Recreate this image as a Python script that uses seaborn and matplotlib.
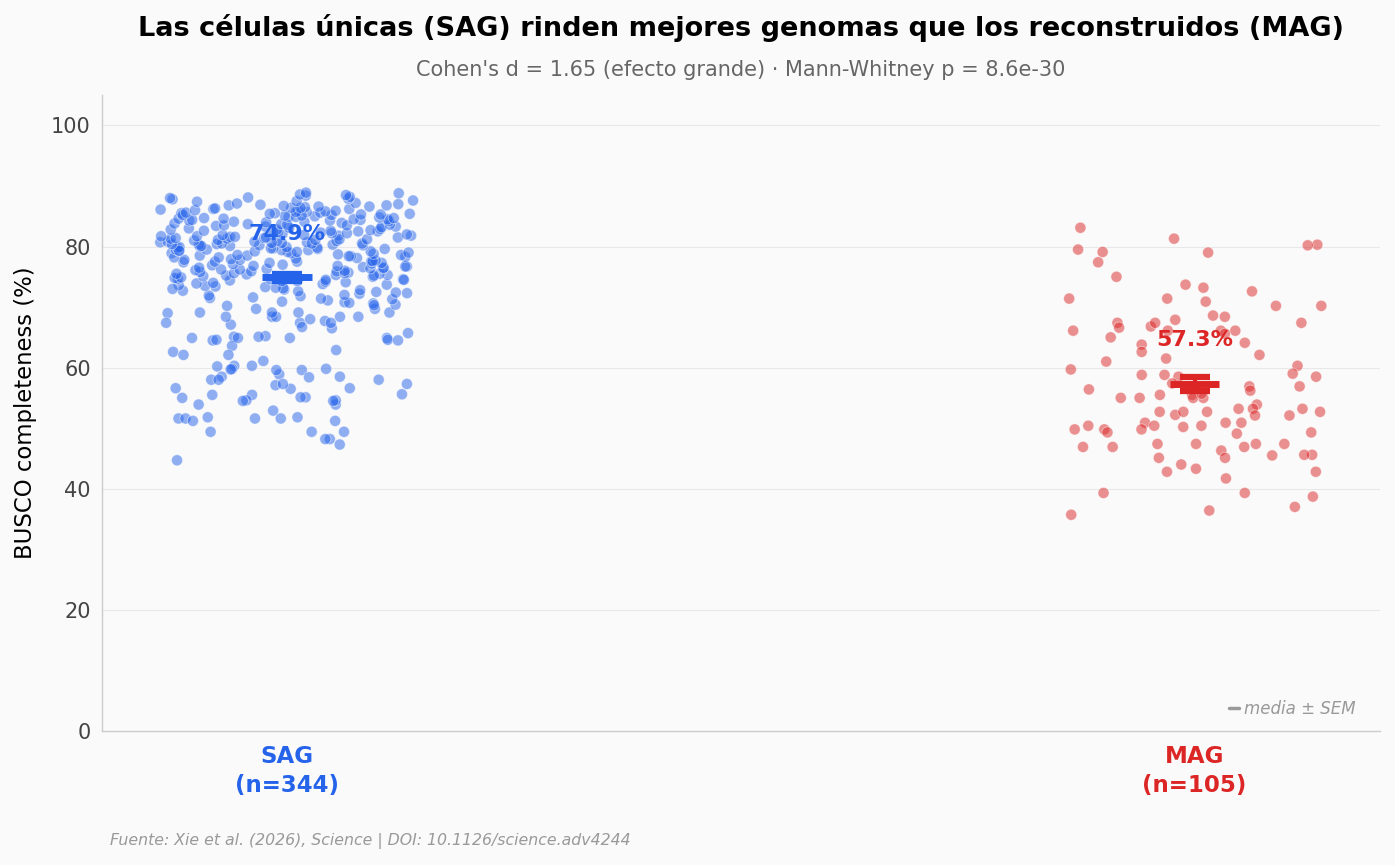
import numpy as np
import pandas as pd
import matplotlib
matplotlib.use('Agg')
import matplotlib.pyplot as plt
import seaborn as sns
from matplotlib.lines import Line2D

# ---- DATOS ----
grupos = ['SAG', 'MAG']
colores = {'SAG': '#2563eb', 'MAG': '#dc2626'}

sag_bajos = [
    67.4, 68.4, 65.1, 64.9, 64.9, 64.6, 64.9, 64.5, 62.6, 68.4, 69.0, 68.4, 67.7,
    67.1, 66.5, 68.0, 67.4, 66.7, 68.4, 65.2, 63.6, 62.9, 69.1, 69.1, 69.1, 68.4,
    64.9, 64.6, 65.1, 64.5, 65.7, 67.4, 69.1, 69.7, 69.7,
    62.1, 59.8, 59.6, 60.3, 60.2, 61.1, 58.9, 62.1, 60.3, 59.6, 58.0, 58.4, 59.8,
    59.7, 57.1, 55.5,
    58.0, 56.5, 55.0, 57.3, 55.5, 58.5, 56.6, 53.9, 51.2, 51.6, 48.2,
    54.6, 55.1, 54.5, 52.9, 56.6, 58.5, 57.3, 58.0,
    54.6, 48.2, 49.4, 51.6, 49.4, 44.7,
    51.6, 49.4, 53.9, 51.6, 51.2, 55.1, 51.8,
    55.6, 54.5, 51.8, 47.3,
]
sag_altos = [
    70.2, 70.4, 70.6, 70.8, 70.9, 70.3, 70.7,
    71.1, 71.3, 71.4, 71.6, 71.8, 71.5, 71.9,
    72.0, 72.2, 72.3, 72.5, 72.6, 72.7, 72.9, 72.4, 72.8,
    73.1, 73.2, 73.4, 73.5, 73.6, 73.7, 73.8, 73.9, 73.3, 73.0,
    74.0, 74.1, 74.2, 74.3, 74.4, 74.5, 74.6, 74.6, 74.7, 74.8, 74.9, 74.5, 74.3,
    75.0, 75.1, 75.2, 75.3, 75.3, 75.4, 75.5, 75.5, 75.6, 75.7, 75.8, 75.9, 75.2, 75.6, 75.9,
    76.0, 76.1, 76.2, 76.3, 76.4, 76.5, 76.5, 76.6, 76.7, 76.8, 76.9, 76.2, 76.4, 76.7, 76.8,
    77.0, 77.1, 77.2, 77.3, 77.4, 77.5, 77.6, 77.7, 77.8, 77.9, 77.3, 77.5, 77.8, 77.6,
    78.0, 78.1, 78.2, 78.3, 78.4, 78.5, 78.6, 78.7, 78.8, 78.9, 78.2, 78.4, 78.6, 78.9, 78.5,
    79.0, 79.1, 79.2, 79.3, 79.4, 79.5, 79.6, 79.7, 79.8, 79.9, 79.1, 79.3, 79.5, 79.7, 79.9,
    79.4, 79.6, 79.2, 79.8,
    80.0, 80.1, 80.2, 80.3, 80.4, 80.5, 80.6, 80.7, 80.8, 80.9, 80.1, 80.3, 80.5, 80.7, 80.9,
    80.2, 80.4, 80.6, 80.8, 80.5,
    81.0, 81.1, 81.2, 81.3, 81.4, 81.5, 81.6, 81.7, 81.8, 81.9, 81.1, 81.3, 81.5, 81.7, 81.9,
    81.2, 81.4, 81.6, 81.8,
    82.0, 82.1, 82.2, 82.3, 82.4, 82.5, 82.6, 82.7, 82.8, 82.9, 82.2, 82.4, 82.6, 82.8, 82.5,
    83.0, 83.1, 83.2, 83.3, 83.4, 83.5, 83.6, 83.7, 83.8, 83.9, 83.3, 83.5, 83.7, 83.6,
    84.0, 84.1, 84.2, 84.3, 84.4, 84.5, 84.6, 84.7, 84.8, 84.9, 84.1, 84.3, 84.5, 84.7, 84.9,
    84.4, 84.6,
    85.0, 85.1, 85.2, 85.3, 85.4, 85.5, 85.6, 85.7, 85.8, 85.9, 85.1, 85.3, 85.5, 85.7, 85.9,
    85.2, 85.4, 85.6,
    86.0, 86.1, 86.2, 86.3, 86.4, 86.5, 86.6, 86.7, 86.8, 86.9, 86.2, 86.4, 86.6, 86.8,
    87.0, 87.2, 87.4, 87.5, 87.6, 87.8, 87.1, 87.9,
    88.0, 88.2, 88.4, 88.5, 88.6, 88.8, 88.1, 88.9,
]
sag = sag_bajos + sag_altos

mag = [
    83.1, 79.0, 81.3, 80.3, 80.2, 79.1, 79.5, 77.4, 75.0, 72.6,
    70.9, 73.2, 73.7, 71.4, 71.4, 70.2, 70.2, 68.6, 67.4, 67.4,
    67.9, 68.4, 66.6, 66.8, 67.4, 66.1, 66.1, 66.1, 65.0, 66.1,
    65.6, 64.1, 63.8, 62.6, 62.1, 61.5, 61.0, 60.3, 59.7, 59.0,
    58.8, 58.8, 58.5, 58.5, 56.9, 57.4, 56.9, 56.2, 56.9, 56.4,
    55.5, 55.5, 55.0, 55.0, 55.0, 55.0, 55.7, 53.2, 53.9, 53.2,
    52.2, 52.7, 52.1, 52.7, 52.1, 52.7, 53.2, 52.7, 50.9, 50.9,
    50.9, 50.4, 50.4, 50.2, 50.4, 49.8, 49.8, 49.1, 49.3, 49.3,
    49.8, 47.4, 47.4, 47.4, 46.9, 46.9, 46.9, 46.3, 47.4, 45.6,
    45.1, 45.1, 44.0, 43.3, 42.8, 42.8, 41.7, 39.3, 39.3, 38.7,
    37.0, 36.4, 35.7, 45.5, 45.6,
]

df = pd.DataFrame({
    'grupo': ['SAG'] * len(sag) + ['MAG'] * len(mag),
    'busco': sag + mag,
})

# ---- FIGURA ----
sns.set_theme(style='white')
plt.rcParams['font.family'] = ['DejaVu Sans']
fondo = '#fafafa'
fig = plt.figure(figsize=(13.95, 8.65), dpi=100, facecolor=fondo)
ax = fig.add_axes([0.0731, 0.155, 0.9159, 0.735])
ax.set_facecolor(fondo)

np.random.seed(3)
sns.stripplot(data=df, x='grupo', y='busco', hue='grupo', order=grupos,
              palette=colores, jitter=0.14, size=8, alpha=0.5,
              edgecolor='white', linewidth=0.6, legend=False, zorder=2, ax=ax)

# ---- MEDIA +- SEM ----
for i, g in enumerate(grupos):
    vals = np.array(df.loc[df['grupo'] == g, 'busco'])
    media = vals.mean()
    sem = vals.std(ddof=1) / np.sqrt(len(vals))
    ax.errorbar(i, media, yerr=sem, fmt='none', ecolor=colores[g],
                elinewidth=3, capsize=11, capthick=4.5, zorder=4)
    ax.hlines(media, i - 0.0275, i + 0.0275, color=colores[g], lw=5, zorder=5)
    ax.text(i, media + 7.2, f'{media:.1f}%', ha='center', va='center',
            fontsize=16, fontweight='bold', color=colores[g], zorder=6)

# ---- EJES ----
ax.set_xlim(-0.204, 1.204)
ax.set_ylim(0, 105)
ax.set_yticks([0, 20, 40, 60, 80, 100])
ax.tick_params(axis='y', labelsize=15, labelcolor='#444444', length=0, pad=8)
ax.tick_params(axis='x', length=5, color='#888888', width=0.8, pad=5)
ax.set_xticks([0, 1])
ax.set_xticklabels([f'{g}\n(n={len(sag) if g == "SAG" else len(mag)})' for g in grupos],
                   fontsize=16.5, fontweight='bold', linespacing=1.35)
for lab, g in zip(ax.get_xticklabels(), grupos):
    lab.set_color(colores[g])
ax.set_xlabel('')
ax.set_ylabel('BUSCO completeness (%)', fontsize=16.4, color='black', labelpad=10)
ax.yaxis.grid(True, color='#e8e8e8', lw=0.8)
ax.set_axisbelow(True)
sns.despine(ax=ax)
for s in ['left', 'bottom']:
    ax.spines[s].set_color('#cccccc')
    ax.spines[s].set_linewidth(1)

# ---- LEYENDA ----
h = [Line2D([0], [0], color='#999999', lw=2.5)]
leg = ax.legend(h, ['media ± SEM'], loc='lower right', frameon=False,
                handlelength=0.6, handletextpad=0.3, prop={'style': 'italic', 'size': 12},
                bbox_to_anchor=(0.993, -0.003))
for t in leg.get_texts():
    t.set_color('#999999')

# ---- TITULOS ----
ax.text(0.5, 1.105, 'Las células únicas (SAG) rinden mejores genomas que los reconstruidos (MAG)',
        transform=ax.transAxes, ha='center', va='center', fontsize=19.5, fontweight='bold',
        color='black')
ax.text(0.5, 1.04, "Cohen's d = 1.65 (efecto grande) · Mann-Whitney p = 8.6e-30",
        transform=ax.transAxes, ha='center', va='center', fontsize=15, color='#666666')
fig.text(110 / 1395, 1 - 841 / 865, 'Fuente: Xie et al. (2026), Science | DOI: 10.1126/science.adv4244',
         ha='left', va='center', fontsize=11.3, style='italic', color='#999999')

fig.savefig('out.png', dpi=100, facecolor=fondo)
